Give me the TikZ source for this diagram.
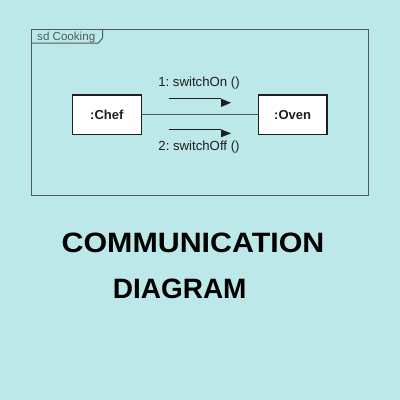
\documentclass[tikz,border=0pt]{standalone}
\usepackage{fontspec}
\setmainfont{Liberation Sans}
\frenchspacing
\definecolor{bgc}{HTML}{BCE8E9}
\definecolor{framec}{HTML}{4E5B5B}
\definecolor{inkc}{HTML}{1E1E1E}
\tikzset{
  objbox/.style={draw=inkc, line width=1.2pt, fill=white, minimum width=68.5pt, minimum height=39.3pt, inner sep=0pt, font=\fontsize{13}{15}\selectfont\bfseries, text=inkc},
  msglabel/.style={anchor=base, inner sep=0pt, font=\fontsize{13.2}{15}\selectfont, text=inkc},
  msgline/.style={draw=inkc, line width=0.9pt},
  msghead/.style={fill=inkc, draw=none},
  titletext/.style={anchor=base, inner sep=0pt, font=\fontsize{28}{32}\selectfont\bfseries, text=black}
}
\begin{document}
\begin{tikzpicture}[x=1pt, y=-1pt]
\useasboundingbox (0,0) rectangle (400,400);
\fill[bgc] (0,0) rectangle (400,400);
% frame
\draw[framec, line width=1pt] (31.7,29) rectangle (368,195.7);
\draw[framec, line width=1pt] (31.7,43) -- (98.3,43) -- (102.7,38) -- (102.7,29);
\node[anchor=base west, inner sep=0pt, font=\fontsize{11.6}{13}\selectfont, text=framec] (sdlabel) at (37,40) {sd Cooking};
% objects
\node[objbox] (chef) at (106.85,114.65) {:Chef};
\node[objbox] (oven) at (292.65,114.65) {:Oven};
\draw[framec, line width=1.1pt] (chef.east) -- (oven.west);
% messages
\coordinate (m1s) at (168.7,98.6);
\coordinate (m1e) at (221,98.6);
\draw[msgline] (m1s) -- (m1e);
\fill[msghead] (m1e) -- (231,102.8) -- (221,107) -- cycle;
\coordinate (m2s) at (168.7,129.3);
\coordinate (m2e) at (221,129.3);
\draw[msgline] (m2s) -- (m2e);
\fill[msghead] (m2e) -- (231,133.3) -- (221,137.3) -- cycle;
\node[msglabel] (l1) at (199,86) {1: switchOn ()};
\node[msglabel] (l2) at (199,150) {2: switchOff ()};
% title
\node[titletext, xscale=1.085] (t1) at (193,252.7) {COMMUNICATION};
\node[titletext] (t2) at (179.7,298) {DIAGRAM};
\end{tikzpicture}
\end{document}
